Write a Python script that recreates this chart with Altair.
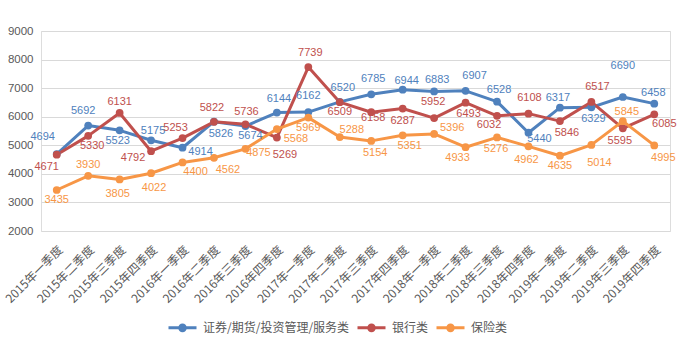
import altair as alt
import pandas as pd

quarters = [
    "2015年一季度", "2015年二季度", "2015年三季度", "2015年四季度",
    "2016年一季度", "2016年二季度", "2016年三季度", "2016年四季度",
    "2017年一季度", "2017年二季度", "2017年三季度", "2017年四季度",
    "2018年一季度", "2018年二季度", "2018年三季度", "2018年四季度",
    "2019年一季度", "2019年二季度", "2019年三季度", "2019年四季度",
]
series_names = ["证券/期货/投资管理/服务类", "银行类", "保险类"]
colors = ["#4F81BD", "#C0504D", "#F79646"]

sec = [4694, 5692, 5523, 5175, 4914, 5826, 5674, 6144, 6162, 6520,
       6785, 6944, 6883, 6907, 6528, 5440, 6317, 6329, 6690, 6458]
bank = [4671, 5330, 6131, 4792, 5253, 5822, 5736, 5269, 7739, 6509,
        6158, 6287, 5952, 6493, 6032, 6108, 5846, 6517, 5595, 6085]
ins = [3435, 3930, 3805, 4022, 4400, 4562, 4875, 5568, 5969, 5288,
       5154, 5351, 5396, 4933, 5276, 4962, 4635, 5014, 5845, 4995]

# data-label offsets in pixels (style only)
sec_dx = [-14, -5, -2, 2, 18, 7, 5, 2, 0, 3, 2, 4, 3, 9, 2, 11, -2, 2, 0, -1]
sec_dy = [-17, -15, 11, -9, 4, 12, 10, -14, -16, -14, -15, -9, -11, -15, -12, 6, -10, 12, -31, -11]
bank_dx = [-10, 4, 0, -18, -7, -2, 1, 8, 2, 0, 2, 0, -1, 3, -8, 1, 7, 6, -3, 10]
bank_dy = [12, 10, -11, 7, -10, -14, -12, 17, -14, 10, 6, 12, -16, 11, 9, -16, 12, -15, 13, 10]
ins_dx = [0, 0, -2, 3, 13, 14, 13, 19, 0, 12, 4, 7, 18, -8, -1, -2, 0, 8, 4, 9]
ins_dy = [10, -11, 15, 15, 10, 12, 4, 10, 10, -7, 12, 11, -6, 11, 12, 14, 10, 18, -9, 13]

PLOT_W, PLOT_H = 629, 200
Y_MIN, Y_MAX = 2000, 9000
units_per_px = (Y_MAX - Y_MIN) / PLOT_H

rows = []
for name, vals, dxs, dys in [
    (series_names[0], sec, sec_dx, sec_dy),
    (series_names[1], bank, bank_dx, bank_dy),
    (series_names[2], ins, ins_dx, ins_dy),
]:
    for q, v, dx, dy in zip(quarters, vals, dxs, dys):
        rows.append({"series": name, "quarter": q, "value": v, "dx": dx, "dy": dy})
df = pd.DataFrame(rows)

legend_symbol = "M-1,0H1M-0.2,0a0.2,0.2 0 1,0 0.4,0a0.2,0.2 0 1,0 -0.4,0"

color_enc = alt.Color(
    "series:N",
    sort=series_names,
    scale=alt.Scale(domain=series_names, range=colors),
    legend=alt.Legend(
        title=None,
        orient="none",
        direction="horizontal",
        legendX=126,
        legendY=281,
        symbolType=legend_symbol,
        symbolSize=784,
        symbolStrokeWidth=3,
        labelFont="Noto Sans CJK SC",
        labelFontSize=12,
        labelColor="#595959",
        labelOffset=5,
        columnPadding=1,
    ),
)

x_enc = alt.X(
    "quarter:N",
    sort=quarters,
    scale=alt.Scale(type="point", padding=0.5),
    axis=alt.Axis(
        title=None,
        labelAngle=-45,
        labelFont="Noto Sans CJK SC",
        labelFontSize=12,
        labelColor="#595959",
        labelPadding=13,
        domain=False,
        ticks=False,
        grid=False,
    ),
)
y_scale = alt.Scale(domain=[Y_MIN, Y_MAX], nice=False)
y_axis = alt.Axis(
    title=None,
    values=list(range(Y_MIN, Y_MAX + 1, 1000)),
    format="d",
    labelFont="Liberation Sans",
    labelFontSize=11.5,
    labelColor="#595959",
    labelPadding=8,
    domain=False,
    ticks=False,
    grid=True,
    gridColor="#D9D9D9",
    gridWidth=1,
)
y_enc = alt.Y("value:Q", scale=y_scale, axis=y_axis)

base = alt.Chart(df)

lines = base.mark_line(strokeWidth=3, strokeJoin="round").encode(
    x=x_enc, y=y_enc, color=color_enc, order=alt.Order("quarter_idx:Q")
).transform_calculate(
    quarter_idx=f"indexof({quarters}, datum.quarter)"
)

points = base.mark_circle(size=60, opacity=1).encode(
    x=x_enc, y=y_enc, color=color_enc
)

labels = base.mark_text(font="Liberation Sans", fontSize=11).encode(
    x=x_enc,
    y=alt.Y("label_y:Q", scale=y_scale, axis=y_axis),
    xOffset=alt.XOffset("dx:Q", scale=alt.Scale(domain=[-50, 50], range=[-50, 50])),
    text=alt.Text("value:Q", format="d"),
    color=color_enc,
).transform_calculate(
    label_y=f"datum.value - datum.dy * {units_per_px}"
)

chart = alt.layer(lines, points, labels).properties(
    width=PLOT_W,
    height=PLOT_H,
    autosize=alt.AutoSizeParams(type="none"),
    padding={"left": 41, "top": 31, "right": 15, "bottom": 115},
).configure_view(strokeWidth=0, stroke="transparent").configure(background="white")

chart.save("out.html", embed_options={"renderer": "svg", "actions": False})
